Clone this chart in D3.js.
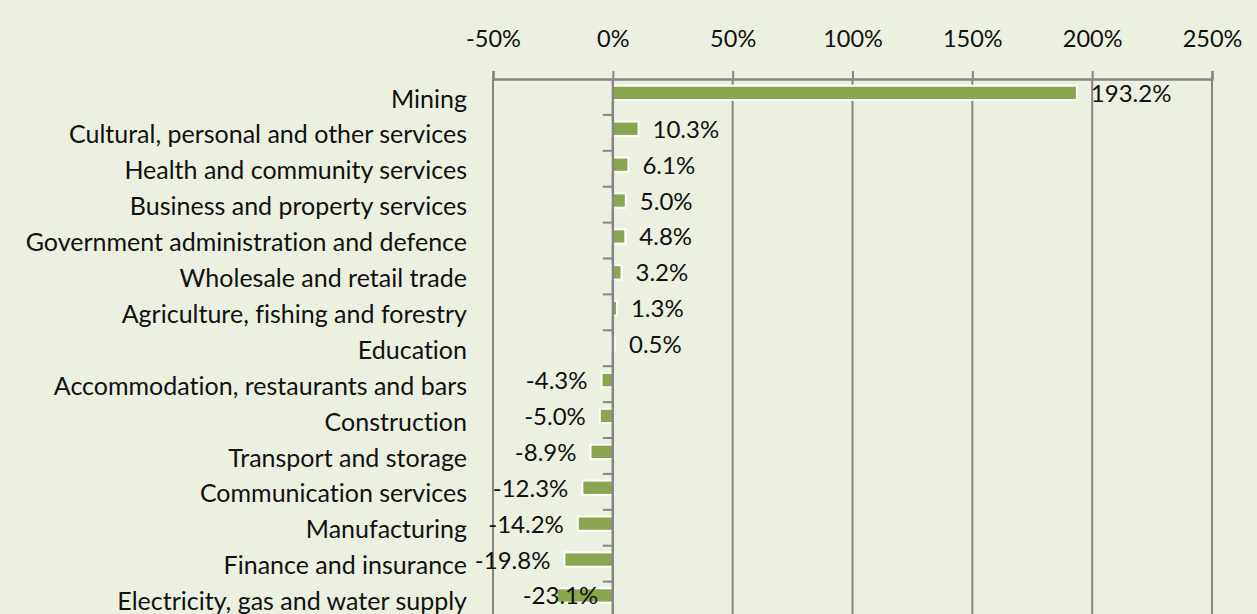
<!DOCTYPE html>
<html>
<head>
<meta charset="utf-8">
<script src="https://cdn.jsdelivr.net/npm/d3@7"></script>
<style>
  body { margin: 0; background: #ecf0e1; }
  text {
    font-family: Lato, "Open Sans", sans-serif;
    fill: #111;
    font-variant-ligatures: none;
    font-feature-settings: "liga" 0, "clig" 0;
  }
</style>
</head>
<body>
<div id="chart"></div>
<script>
// industries, top to bottom
var categories = [
  'Mining',
  'Cultural, personal and other services',
  'Health and community services',
  'Business and property services',
  'Government administration and defence',
  'Wholesale and retail trade',
  'Agriculture, fishing and forestry',
  'Education',
  'Accommodation, restaurants and bars',
  'Construction',
  'Transport and storage',
  'Communication services',
  'Manufacturing',
  'Finance and insurance',
  'Electricity, gas and water supply'
];

// change, %
var values = [193.2, 10.3, 6.1, 5.0, 4.8, 3.2, 1.3, 0.5, -4.3, -5.0, -8.9, -12.3, -14.2, -19.8, -23.1];

var tickValues = [-50, 0, 50, 100, 150, 200, 250];

var svgWidth = 1257;
var svgHeight = 614;

var margin = { top: 79, left: 493, right: 45 };
var bandStep = 35.9;
var plotRight = svgWidth - margin.right;
var plotBottom = margin.top + bandStep * categories.length;

var data = categories.map((c, i) => ({ name: c, value: values[i] }));

var svg = d3.select('#chart').append('svg')
  .attr('width', svgWidth)
  .attr('height', svgHeight);

svg.append('rect')
  .attr('width', svgWidth)
  .attr('height', svgHeight)
  .attr('fill', '#ecf0e1');

var xScale = d3.scaleLinear()
  .domain([-50, 250])
  .range([margin.left, plotRight]);

var yScale = d3.scaleBand()
  .domain(categories)
  .range([margin.top, plotBottom])
  .paddingInner(0)
  .paddingOuter(0);

var grey = '#868686';

// vertical gridlines
svg.selectAll('line.grid')
  .data(tickValues)
  .enter()
  .append('line')
  .attr('class', 'grid')
  .attr('x1', d => xScale(d))
  .attr('x2', d => xScale(d))
  .attr('y1', margin.top)
  .attr('y2', plotBottom)
  .attr('stroke', grey)
  .attr('stroke-width', 2);

// top axis
var xAxis = d3.axisTop(xScale)
  .tickValues(tickValues)
  .tickFormat(d => d + '%')
  .tickSize(8)
  .tickPadding(24);

var gx = svg.append('g')
  .attr('transform', `translate(0, ${margin.top})`)
  .call(xAxis);

gx.select('.domain')
  .attr('stroke', grey)
  .attr('stroke-width', 2.5);
gx.selectAll('.tick line')
  .attr('stroke', grey)
  .attr('stroke-width', 2);
gx.selectAll('.tick text')
  .attr('font-size', 23.5)
  .attr('fill', '#111');

// bars: white outline drawn outside the green fill
var barOffset = 7.7;
var barHeight = 12.3;
var border = 2;

var bars = svg.selectAll('g.bar')
  .data(data)
  .enter()
  .append('g')
  .attr('class', 'bar');

bars.append('rect')
  .attr('x', d => xScale(Math.min(0, d.value)) - border)
  .attr('y', d => yScale(d.name) + barOffset - border)
  .attr('width', d => Math.abs(xScale(d.value) - xScale(0)) + 2 * border)
  .attr('height', barHeight + 2 * border)
  .attr('fill', '#ffffff');

bars.append('rect')
  .attr('x', d => xScale(Math.min(0, d.value)))
  .attr('y', d => yScale(d.name) + barOffset)
  .attr('width', d => Math.abs(xScale(d.value) - xScale(0)))
  .attr('height', barHeight)
  .attr('fill', '#8aa650');

// category axis at zero
var zeroX = xScale(0);
svg.append('line')
  .attr('x1', zeroX)
  .attr('x2', zeroX)
  .attr('y1', margin.top)
  .attr('y2', plotBottom)
  .attr('stroke', grey)
  .attr('stroke-width', 2.5);

svg.selectAll('line.ytick')
  .data(categories.slice(1))
  .enter()
  .append('line')
  .attr('class', 'ytick')
  .attr('x1', zeroX - 10)
  .attr('x2', zeroX)
  .attr('y1', d => yScale(d))
  .attr('y2', d => yScale(d))
  .attr('stroke', grey)
  .attr('stroke-width', 2);

// category labels
svg.selectAll('text.cat')
  .data(categories)
  .enter()
  .append('text')
  .attr('class', 'cat')
  .attr('x', 467)
  .attr('y', d => yScale(d) + 28.5)
  .attr('text-anchor', 'end')
  .attr('font-size', 25)
  .text(d => d);

// value labels, outside the bar end; the last one sits on the bar end
var lastName = categories[categories.length - 1];
svg.selectAll('text.val')
  .data(data)
  .enter()
  .append('text')
  .attr('class', 'val')
  .attr('x', d => {
    if (d.name === lastName) return xScale(d.value) + 3;
    return d.value >= 0 ? xScale(d.value) + 15 : xScale(d.value) - 15;
  })
  .attr('y', d => yScale(d.name) + barOffset + barHeight / 2 + 9)
  .attr('text-anchor', d => d.name === lastName ? 'middle' : (d.value >= 0 ? 'start' : 'end'))
  .attr('font-size', 24)
  .text(d => d.value.toFixed(1) + '%');
</script>
</body>
</html>
